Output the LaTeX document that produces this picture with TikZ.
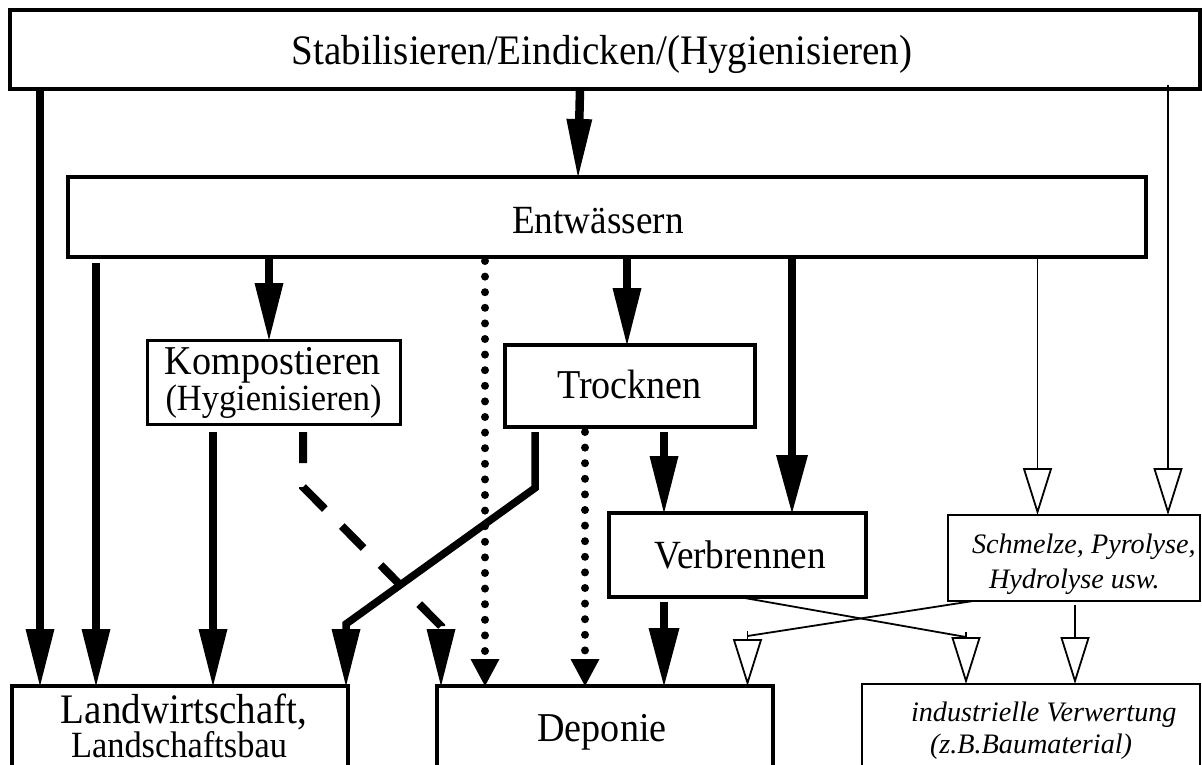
\documentclass[tikz,border=0pt]{standalone}
\usepackage{fontspec}
\setmainfont[FakeStretch=0.93]{Liberation Serif}
\newfontfamily\plainserif{Liberation Serif}
\usetikzlibrary{arrows.meta}
\tikzset{
  box/.style={draw, line width=4pt, inner sep=0pt, outer sep=0pt, fill=white},
  txt/.style={inner sep=0pt, outer sep=0pt, anchor=base},
  bigf/.style={font=\fontsize{41}{41}\selectfont},
  smallf/.style={font=\fontsize{37}{37}\selectfont},
  itf/.style={font=\plainserif\itshape\fontsize{28.2}{28.2}\selectfont},
  heavy/.style={line width=8.5pt, -{Triangle[length=57pt,width=29pt,line width=0pt]}},
  dotarrow/.style={line width=8pt, line cap=round, dash pattern=on 0pt off 15.6pt,
     -{Triangle[length=27pt,width=29pt,line width=0pt]}},
  dasharrow/.style={line width=8pt, dash pattern=on 31pt off 24pt,
     -{Triangle[length=57pt,width=29pt,line width=0pt]}},
  thinarrow/.style={line width=1.8pt, -{Triangle[open,length=47pt,width=29pt]}},
  thinline/.style={line width=1.8pt},
}
\begin{document}
\begin{tikzpicture}[x=1pt,y=-1pt]
\clip (0,0) rectangle (1202,764);
\fill[white] (0,0) rectangle (1202,764);

% boxes
\node[box, minimum width=1190pt, minimum height=79.5pt] (stab) at (605,49.25) {};
\node[box, minimum width=1078pt, minimum height=80pt] (entw) at (607,217) {};
\node[box, line width=3pt, minimum width=253pt, minimum height=84pt] (komp) at (273.5,382) {};
\node[box, line width=3.5pt, minimum width=250pt, minimum height=82pt] (trock) at (630,386) {};
\node[box, line width=4.5pt, minimum width=257pt, minimum height=84pt] (verb) at (737.5,555) {};
\node[box, line width=2pt, minimum width=252pt, minimum height=86pt] (schm) at (1074,558) {};
\node[box, minimum width=336pt, minimum height=214pt] (landw) at (180,793) {};
\node[box, line width=4.5pt, minimum width=336pt, minimum height=214pt] (depo) at (605,793) {};
\node[box, line width=2pt, minimum width=338pt, minimum height=216pt] (indus) at (1031,792) {};

% texts
\node[txt, font=\fontsize{42}{42}\selectfont] (stabT) at (602,64.5) {Stabilisieren/Eindicken/(Hygienisieren)};
\node[txt, font=\fontsize{40}{40}\selectfont] (entwT) at (598,233) {Entwässern};
\node[txt, bigf] (kompT) at (273,374) {Kompostieren};
\node[txt, smallf] (kompT2) at (273.5,410) {(Hygienisieren)};
\node[txt, bigf] (trockT) at (629.5,398) {Trocknen};
\node[txt, font=\fontsize{40}{40}\selectfont] (verbT) at (740,568) {Verbrennen};
\node[txt, itf, anchor=base west] (schmT) at (972,553) {Schmelze, Pyrolyse,};
\node[txt, itf, anchor=base west] (schmT2) at (989,588) {Hydrolyse usw.};
\node[txt, font=\fontsize{42}{42}\selectfont] (landwT) at (184,723) {Landwirtschaft,};
\node[txt, smallf] (landwT2) at (179,757.5) {Landschaftsbau};
\node[txt, bigf] (depoT) at (602,741) {Deponie};
\node[txt, itf, anchor=base west] (indusT) at (911,721) {industrielle Verwertung};
\node[txt, itf, anchor=base west] (indusT2) at (930,753) {(z.B.Baumaterial)};

% column coordinates
\coordinate (x0a) at (580,0);
\coordinate (x0b) at (578,0);
\coordinate (c1) at (40,0);
\coordinate (c2) at (96,0);
\coordinate (c3) at (269,0);
\coordinate (c4) at (213,0);
\coordinate (c5) at (303,0);
\coordinate (c6) at (485,0);
\coordinate (c7) at (627,0);
\coordinate (c8) at (535,0);
\coordinate (c9) at (585,0);
\coordinate (c10) at (664,0);
\coordinate (c11) at (792,0);
\coordinate (c12) at (1037.5,0);
\coordinate (c13) at (1168,0);
\coordinate (c14) at (1075,0);
\coordinate (cv) at (739,0);
\coordinate (cs) at (973,0);
% bends
\coordinate (kb1) at (303,487);
\coordinate (kb2) at (441,626);
\coordinate (tb1) at (535,488);
\coordinate (tb2) at (346,624);
\coordinate (vb) at (966,637);
\coordinate (sb) at (747.5,636);

% heavy arrows
\draw[heavy, -{Triangle[length=58pt,width=26pt,line width=0pt]}] (stab.south -| x0a) -- (entw.north -| x0b);
\draw[heavy] (stab.south -| c1) -- (landw.north -| c1);
\draw[heavy] ([yshift=-6pt]entw.south -| c2) -- (landw.north -| c2);
\draw[heavy] (entw.south -| c3) -- (komp.north -| c3);
\draw[heavy, shorten <=8pt] (komp.south -| c4) -- (landw.north -| c4);
\draw[heavy] (entw.south -| c7) -- (trock.north -| c7);
\draw[heavy, shorten <=5pt] (trock.south -| c10) -- (verb.north -| c10);
\draw[heavy, -{Triangle[length=58pt,width=32pt,line width=0pt]}] (entw.south -| c11) -- (verb.north -| c11);
\draw[heavy, -{Triangle[length=58pt,width=31pt,line width=0pt]}, shorten <=5pt] (verb.south -| c10) -- (depo.north -| c10);
\draw[heavy, line width=7.5pt, shorten <=5pt] (trock.south -| c8) -- (tb1) -- (tb2) -- (landw.north -| tb2);

% dashed / dotted
\draw[dasharrow, shorten <=8pt] (komp.south -| c5) -- (kb1) -- (kb2) -- (depo.north -| kb2);
\draw[dotarrow] ([yshift=-4pt]entw.south -| c6) -- (depo.north -| c6);
\draw[dotarrow] ([yshift=-5pt]trock.south -| c9) -- (depo.north -| c9);

% thin arrows
\draw[thinarrow] ([yshift=4pt]stab.south -| c13) -- (schm.north -| c13);
\draw[thinarrow] (entw.south -| c12) -- (schm.north -| c12);
\draw[thinarrow, shorten <=4pt] (schm.south -| c14) -- (indus.north -| c14);
\draw[thinline] (verb.south -| cv) -- (vb);
\draw[thinarrow] ([yshift=5pt]vb) -- (indus.north -| vb);
\draw[thinline] (schm.south -| cs) -- (sb);
\draw[thinarrow] ([yshift=5pt]sb) -- (depo.north -| sb);
\end{tikzpicture}
\end{document}
